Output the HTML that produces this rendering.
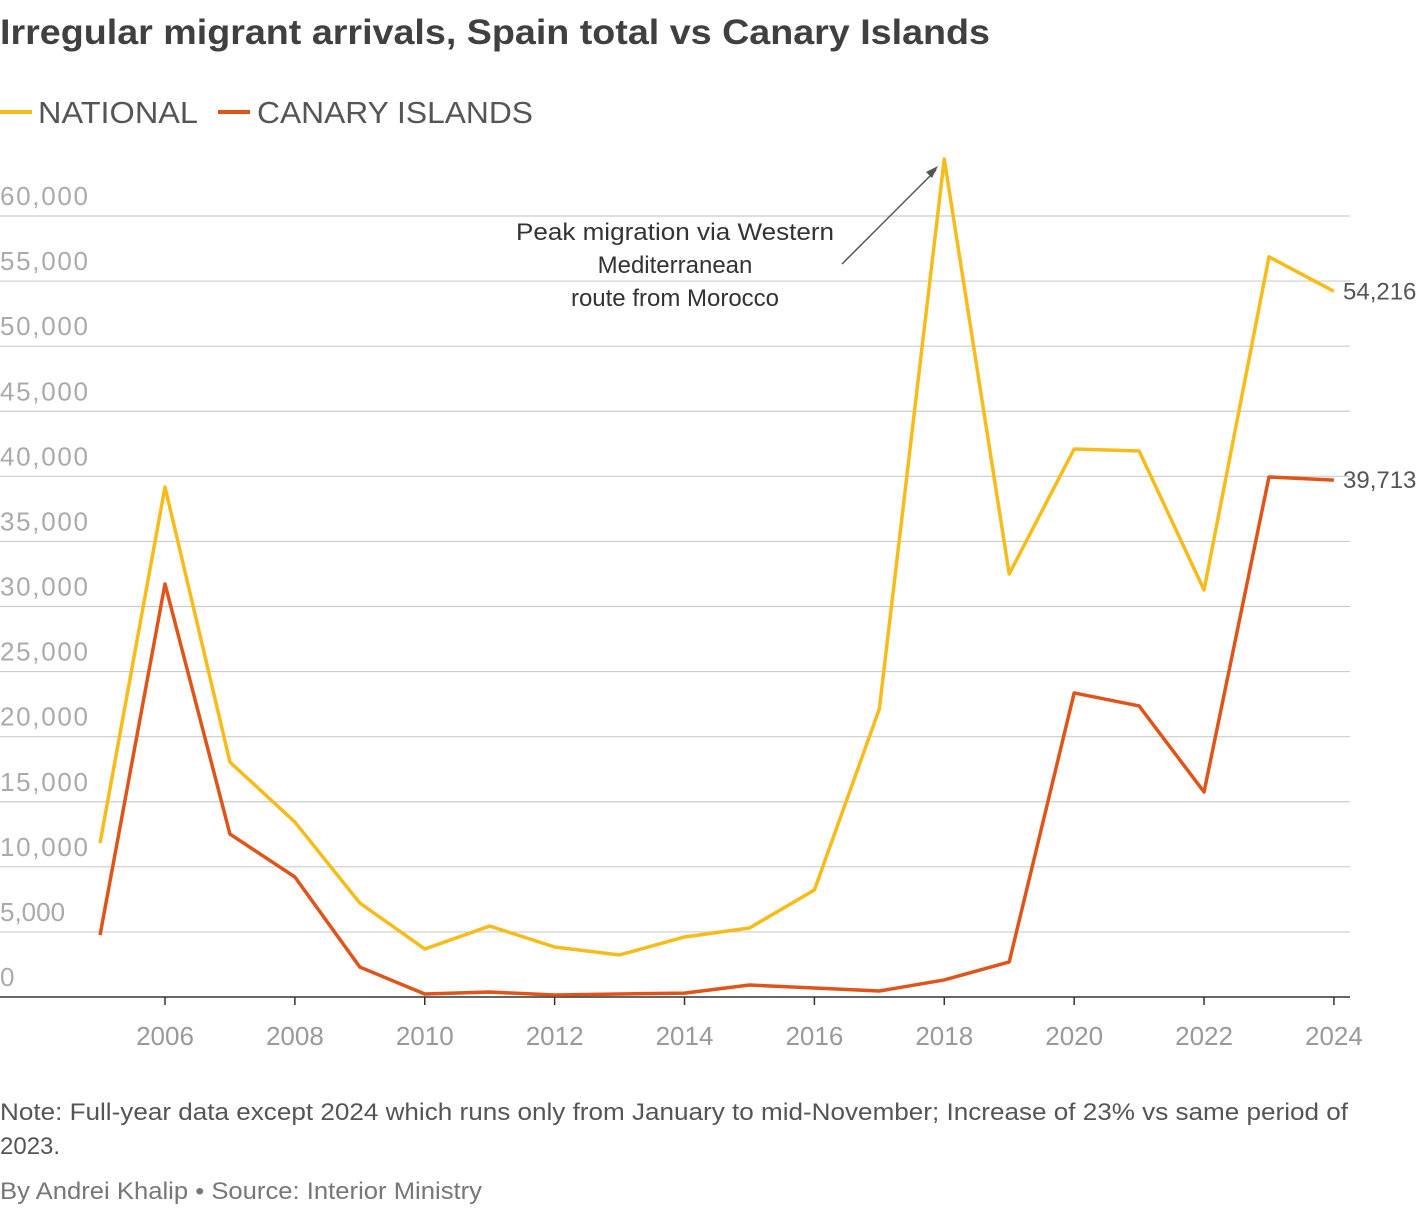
<!DOCTYPE html>
<html><head><meta charset="utf-8"><style>
body{margin:0;background:#fff;width:1420px;height:1206px;overflow:hidden;font-family:"Liberation Sans",sans-serif}
</style></head><body>
<svg id="c" width="1420" height="1206" xmlns="http://www.w3.org/2000/svg">
<text x="0" y="44" font-size="35" font-weight="bold" fill="#404040" textLength="990" lengthAdjust="spacingAndGlyphs">Irregular migrant arrivals, Spain total vs Canary Islands</text>
<g>
<line x1="0" y1="112" x2="32" y2="112" stroke="#f7bb1a" stroke-width="4"/>
<text x="38" y="123" font-size="31" fill="#555" textLength="160" lengthAdjust="spacingAndGlyphs">NATIONAL</text>
<line x1="218" y1="112" x2="250" y2="112" stroke="#e0541a" stroke-width="4"/>
<text x="257" y="123" font-size="31" fill="#555" textLength="276" lengthAdjust="spacingAndGlyphs">CANARY ISLANDS</text>
</g>
<g id="grid"></g><g id="xt"></g><g id="lines"></g>
<g font-size="24" fill="#333" text-anchor="middle">
<text x="675" y="240" textLength="318" lengthAdjust="spacingAndGlyphs">Peak migration via Western</text>
<text x="675" y="273">Mediterranean</text>
<text x="675" y="306">route  from Morocco</text>
<line x1="842" y1="264" x2="936" y2="170" stroke="#555" stroke-width="1.5"/>
<path d="M938 166 L926 172 L932 178 Z" fill="#555"/>
</g>
<text x="0" y="1120" font-size="24" fill="#555" textLength="1348" lengthAdjust="spacingAndGlyphs">Note: Full-year data except 2024 which runs only from January to mid-November; Increase of 23% vs same period of</text>
<text x="0" y="1154" font-size="24" fill="#555">2023.</text>
<text x="0" y="1199" font-size="24" fill="#777" textLength="482" lengthAdjust="spacingAndGlyphs">By Andrei Khalip • Source: Interior Ministry</text>
</svg>
<script>
const years=[2005,2006,2007,2008,2009,2010,2011,2012,2013,2014,2015,2016,2017,2018,2019,2020,2021,2022,2023,2024];
const national=[11830,39180,18050,13440,7220,3690,5450,3840,3230,4610,5300,8220,22130,64380,32500,42100,41950,31270,56860,54216];
const canary=[4760,31730,12520,9220,2300,230,380,150,230,300,920,690,460,1310,2690,23360,22360,15750,39950,39713];
const yTicks=[0,5000,10000,15000,20000,25000,30000,35000,40000,45000,50000,55000,60000];
const xTicks=[2006,2008,2010,2012,2014,2016,2018,2020,2022,2024];
const NS="http://www.w3.org/2000/svg";
const x=v=>165+(v-2006)*64.94;
const y=v=>997-v*(781/60000);
function mk(t,a,p){const e=document.createElementNS(NS,t);for(const k in a)e.setAttribute(k,a[k]);p.appendChild(e);return e;}
const g=document.getElementById('grid');
yTicks.forEach(v=>{
 const l=mk('line',{x1:0,x2:1350,y1:y(v),y2:y(v),stroke:v===0?'#333':'#ccc','stroke-width':v===0?1.5:1.2},g);
 
 
 const t=mk('text',{x:0,y:y(v)-11,'font-size':26,fill:'#aaa'},g);
 t.textContent=v===0?'0':v.toLocaleString('en-US');
 if(v>=10000) t.setAttribute('textLength',88);
 
 
});
const xt=document.getElementById('xt');
xTicks.forEach(v=>{
 mk('line',{x1:x(v),x2:x(v),y1:997,y2:1005,stroke:'#333','stroke-width':1.5},xt);
 const t=mk('text',{x:x(v),y:1045,'font-size':26,fill:'#999','text-anchor':'middle'},xt);
 t.textContent=v;
 
 
});
const lg=document.getElementById('lines');
[[national,'#f7bb1a','national-line'],[canary,'#e0541a','canary-line']].forEach(([d,c,n])=>{
 const p=mk('polyline',{points:d.map((v,i)=>x(years[i])+','+y(v)).join(' '),fill:'none',stroke:c,'stroke-width':3.5,'stroke-linejoin':'round'},lg);
 
 
 const last=d[d.length-1];
 const t=mk('text',{x:1343,y:y(last)+8,'font-size':24,fill:'#555'},lg);
 t.textContent=last.toLocaleString('en-US');
 
 
});
</script>
</body></html>
